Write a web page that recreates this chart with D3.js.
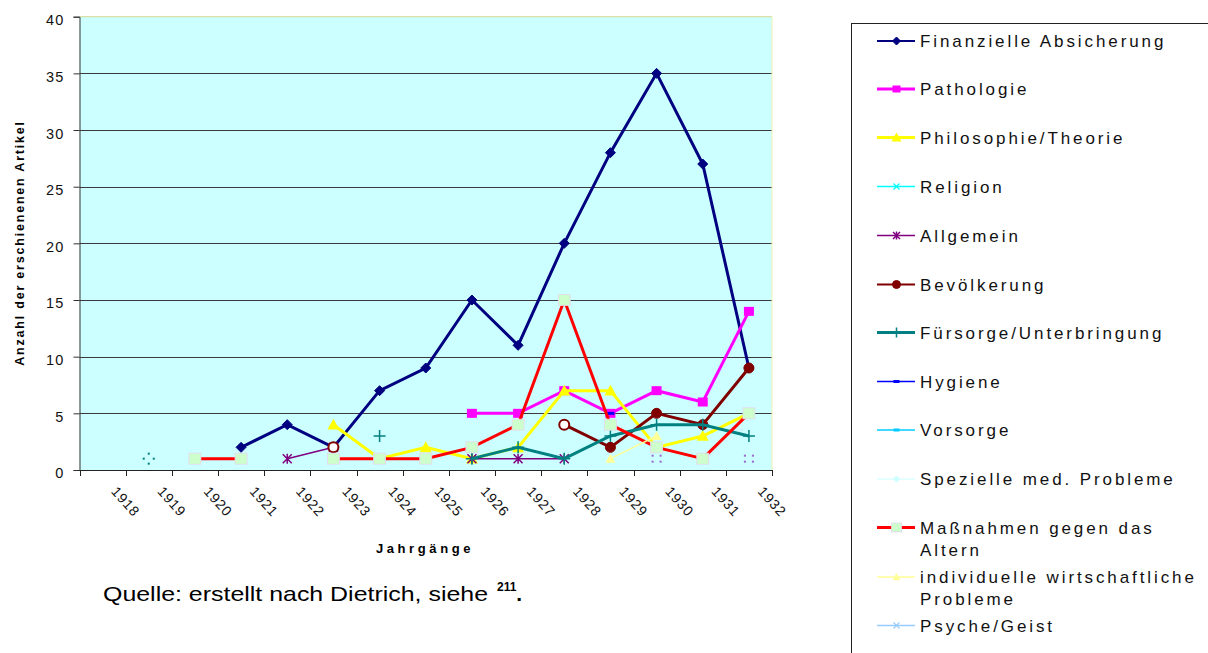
<!DOCTYPE html>
<html><head><meta charset="utf-8">
<script src="https://cdn.jsdelivr.net/npm/d3@7"></script>
<style>body{margin:0;background:#fff;}svg{display:block;font-family:Arial,"Liberation Sans",sans-serif;}</style>
</head><body><svg id="c" width="1208" height="653"></svg>
<script>
const years = ["1918","1919","1920","1921","1922","1923","1924","1925","1926","1927","1928","1929","1930","1931","1932"];
const yTicks = [0,5,10,15,20,25,30,35,40];
const seriesNames = ["Finanzielle Absicherung","Pathologie","Philosophie/Theorie","Religion","Allgemein","Bevölkerung","Fürsorge/Unterbringung","Hygiene","Vorsorge","Spezielle med. Probleme","Maßnahmen gegen das Altern","individuelle wirtschaftliche Probleme","Psyche/Geist"];
const finanzielle = [null,null,null,2,4,2,7,9,15,11,20,28,35,27,9];
const pathologie = [null,null,null,null,null,null,null,null,5,5,7,5,7,6,14];
const philosophie = [null,null,null,null,null,4,1,2,1,2,7,7,2,3,5];
const religion = [null,null,null,null,null,null,null,null,null,null,null,null,null,null,null];
const allgemein = [null,null,null,null,1,2,null,null,1,1,1,null,null,null,null];
const bevoelkerung = [null,null,null,null,null,2,null,null,null,null,4,2,5,4,9];
const fuersorge = [null,null,null,null,null,null,3,null,1,2,1,3,4,4,3];
const hygiene = [null,null,null,null,null,null,null,null,null,null,null,5,null,null,null];
const vorsorge = [null,null,null,null,null,null,null,null,null,null,null,null,null,null,null];
const spezielle = [null,null,null,null,null,null,null,null,null,null,null,null,null,null,null];
const massnahmen = [null,null,1,1,null,1,1,1,2,4,15,4,2,1,5];
const individuelle = [null,null,null,null,null,null,null,null,null,null,null,1,3,null,null];
const psyche = [null,null,null,null,null,null,null,null,null,null,null,null,null,null,null];
// small dotted marks (series, year, value)
const dottedSeries = ["Fürsorge/Unterbringung","Allgemein","Allgemein"];
const dottedYears = ["1919","1930","1932"];
const dottedValues = [1,1,1];
// Bevölkerung points drawn with open markers
const openBevYears = ["1923","1928"];

const allValues = [finanzielle,pathologie,philosophie,religion,allgemein,bevoelkerung,fuersorge,hygiene,vorsorge,spezielle,massnahmen,individuelle,psyche];

const styles = [
 {color:"#000080", w:3, lw:2, marker:"diamond", fill:"#000080", ms:5},
 {color:"#FF00FF", w:3, lw:3, marker:"square", fill:"#FF00FF", ms:5},
 {color:"#FFFF00", w:3, lw:3, marker:"triangle", fill:"#FFFF00", ms:6},
 {color:"#00FFFF", w:1.5, lw:1.5, marker:"x", fill:"none", ms:4},
 {color:"#800080", w:1.5, lw:1.5, marker:"asterisk", fill:"none", ms:4.5},
 {color:"#800000", w:3, lw:2, marker:"circle", fill:"#800000", ms:5},
 {color:"#008080", w:3, lw:3, marker:"plus", fill:"none", ms:6},
 {color:"#0000FF", w:1.5, lw:1.5, marker:"dash", fill:"#0000FF", ms:4},
 {color:"#00CCFF", w:1.5, lw:1.5, marker:"dash", fill:"#00CCFF", ms:4},
 {color:"#CCFFFF", w:1, lw:1, marker:"diamond", fill:"#CCFFFF", ms:4},
 {color:"#FF0000", w:3, lw:3, marker:"square", fill:"#CCFFCC", ms:6, stroke:"#E6D6F0"},
 {color:"#FFFF99", w:1.5, lw:1.5, marker:"triangle", fill:"#FFFF99", ms:5},
 {color:"#99CCFF", w:1.5, lw:1.5, marker:"x", fill:"none", ms:4}
];

const svg = d3.select("#c");
const x = d3.scaleBand().domain(years).range([79.5, 772]);
const y = d3.scaleLinear().domain([0,40]).range([470, 16.7]);
const cx = d => x(d) + x.bandwidth()/2;

// plot area
svg.append("rect").attr("x",79.5).attr("y",y(40)).attr("width",772-79.5).attr("height",y(0)-y(40))
  .attr("fill","#CCFFFF");
svg.append("g").selectAll("line").data(yTicks.filter(t=>t>0&&t<40)).join("line")
  .attr("x1",79.5).attr("x2",772).attr("y1",d=>Math.round(y(d))+0.5).attr("y2",d=>Math.round(y(d))+0.5)
  .attr("stroke","#3a3a3a").attr("stroke-width",1);
svg.append("line").attr("x1",79.5).attr("x2",772).attr("y1",y(40)).attr("y2",y(40)).attr("stroke","#D8D890").attr("stroke-width",1);
svg.append("line").attr("x1",772).attr("x2",772).attr("y1",y(40)).attr("y2",y(0)).attr("stroke","#F0F0B0").attr("stroke-width",1);

// y axis
const ya = svg.append("g").attr("transform","translate(79.5,0)")
  .call(d3.axisLeft(y).tickValues(yTicks).tickSize(6).tickPadding(9).tickFormat(d3.format("d")));
ya.select(".domain").attr("stroke","#333");
ya.selectAll(".tick line").attr("stroke","#333");
ya.selectAll(".tick text").attr("font-size","14.5px").attr("letter-spacing","1.2px").attr("fill","#111")
  .attr("font-family","Arial,'Liberation Sans',sans-serif").attr("dy","0.55em");

// x axis
svg.append("line").attr("x1",79.5).attr("x2",772).attr("y1",470.5).attr("y2",470.5).attr("stroke","#222");
const bounds = years.map(d=>x(d)).concat([x(years[years.length-1])+x.bandwidth()]);
svg.append("g").selectAll("line").data(bounds).join("line")
  .attr("x1",d=>Math.round(d)+0.5).attr("x2",d=>Math.round(d)+0.5).attr("y1",470).attr("y2",476)
  .attr("stroke","#222");
svg.append("g").selectAll("text").data(years).join("text")
  .attr("transform",d=>`translate(${cx(d)+8},${492}) rotate(48)`)
  .attr("font-size","14px").attr("letter-spacing","0.8px").attr("fill","#111").text(d=>d);

svg.append("text").attr("x",425).attr("y",553).attr("text-anchor","middle")
  .attr("font-size","13px").attr("font-weight","bold").attr("letter-spacing","3.6px").text("Jahrgänge");
svg.append("text").attr("transform","translate(24,243) rotate(-90)").attr("text-anchor","middle")
  .attr("font-size","12.5px").attr("font-weight","bold").attr("letter-spacing","1.8px").text("Anzahl der erschienenen Artikel");

const q = svg.append("text").attr("x",103).attr("y",601).attr("font-size","21px").attr("fill","#000");
q.append("tspan").attr("textLength",385).attr("lengthAdjust","spacingAndGlyphs").text("Quelle: erstellt nach Dietrich, siehe");
q.append("tspan").attr("x",497).attr("font-size","12px").attr("font-weight","bold").attr("dy","-10").text("211");
q.append("tspan").attr("font-weight","bold").attr("dy","10").text(".");

function drawMarker(g, type, px, py, st, s, open){
  const col = st.color;
  if(type==="diamond"){
    g.append("path").attr("d",`M${px},${py-s}L${px+s},${py}L${px},${py+s}L${px-s},${py}Z`).attr("fill",st.fill).attr("stroke",st.fill);
  } else if(type==="square"){
    g.append("rect").attr("x",px-s).attr("y",py-s+0.5).attr("width",2*s).attr("height",2*s-1)
      .attr("fill",st.fill).attr("stroke",st.stroke||"none").attr("stroke-width",0.8);
  } else if(type==="triangle"){
    g.append("path").attr("d",`M${px},${py-s}L${px+s},${py+s*0.8}L${px-s},${py+s*0.8}Z`).attr("fill",st.fill);
  } else if(type==="circle"){
    g.append("circle").attr("cx",px).attr("cy",py).attr("r",s)
      .attr("fill",open?"#FFFFFF":st.fill).attr("stroke",col).attr("stroke-width",open?2:1);
  } else if(type==="plus"){
    g.append("path").attr("d",`M${px-s},${py}H${px+s}M${px},${py-s}V${py+s}`).attr("stroke",col).attr("stroke-width",1.5);
  } else if(type==="x"){
    g.append("path").attr("d",`M${px-s},${py-s}L${px+s},${py+s}M${px-s},${py+s}L${px+s},${py-s}`).attr("stroke",col).attr("stroke-width",1.2);
  } else if(type==="asterisk"){
    g.append("path").attr("d",`M${px-s},${py-s}L${px+s},${py+s}M${px-s},${py+s}L${px+s},${py-s}M${px},${py-s-0.5}V${py+s+0.5}`).attr("stroke",col).attr("stroke-width",1.5);
  } else if(type==="dash"){
    g.append("rect").attr("x",px-s).attr("y",py-1.5).attr("width",2*s).attr("height",3).attr("fill",st.fill);
  }
}

// series
const plot = svg.append("g");
allValues.forEach((vals,i)=>{
  const st = styles[i];
  const g = plot.append("g");
  const pts = years.map((yr,j)=>({yr, v: vals[j]}));
  const line = d3.line().defined(d=>d.v!=null).x(d=>cx(d.yr)).y(d=>y(d.v));
  g.append("path").datum(pts).attr("d",line).attr("fill","none").attr("stroke",st.color)
    .attr("stroke-width",st.w).attr("stroke-linejoin","miter");
  pts.filter(d=>d.v!=null).forEach(d=>{
    const open = i===5 && openBevYears.includes(d.yr);
    drawMarker(g, st.marker, cx(d.yr), y(d.v), st, st.ms, open);
  });
});
// dotted marks
dottedYears.forEach((yr,k)=>{
  const st = styles[seriesNames.indexOf(dottedSeries[k])];
  const px = cx(yr), py = y(dottedValues[k]);
  const offs = dottedSeries[k]==="Allgemein" ? [[-4,-3],[4,-3],[-4,3],[4,3]] : [[0,-5],[-5,0],[5,0],[0,5]];
  const c = dottedSeries[k]==="Allgemein" ? "#9966CC" : st.color;
  svg.append("g").selectAll("rect").data(offs).join("rect")
    .attr("x",o=>px+o[0]-1).attr("y",o=>py+o[1]-1).attr("width",2).attr("height",2).attr("fill",c);
});

// legend
svg.append("rect").attr("x",851.5).attr("y",23.5).attr("width",400).attr("height",700)
  .attr("fill","#fff").attr("stroke","#222").attr("stroke-width",1);
const legY = [41,89,137.5,186.5,235.5,284.5,332.5,381.5,430,479,527.5,577,625.5];
const leg = svg.append("g");
seriesNames.forEach((name,i)=>{
  const st = styles[i];
  const ly = legY[i];
  leg.append("line").attr("x1",877).attr("x2",915).attr("y1",ly).attr("y2",ly).attr("stroke",st.color).attr("stroke-width",st.lw);
  const lst = Object.assign({}, st);
  drawMarker(leg, st.marker, 896.5, ly, lst, Math.max(3, st.ms-1), false);
  const t = leg.append("text").attr("x",920).attr("y",ly+6).attr("font-size","17px").attr("letter-spacing","2.9px").attr("fill","#111");
  if(name==="Maßnahmen gegen das Altern"){
    t.append("tspan").text("Maßnahmen gegen das");
    t.append("tspan").attr("x",920).attr("dy",22.5).text("Altern");
  } else if(name==="individuelle wirtschaftliche Probleme"){
    t.append("tspan").text("individuelle wirtschaftliche");
    t.append("tspan").attr("x",920).attr("dy",21.5).text("Probleme");
  } else t.text(name);
});
</script></body></html>
